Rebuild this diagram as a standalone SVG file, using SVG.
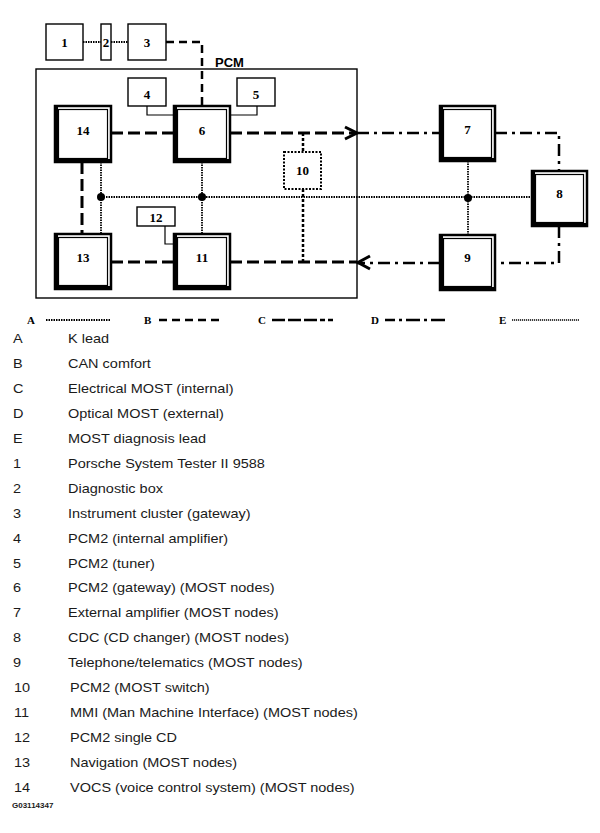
<svg xmlns="http://www.w3.org/2000/svg" width="600" height="833" viewBox="0 0 600 833">
<style>
.bg{fill:#fff}
.fo{fill:#fff;stroke:#000;stroke-width:2.5}
.fi{fill:none;stroke:#000;stroke-width:1.2}
.fs{fill:none;stroke:#000;stroke-width:3}
.bx{fill:#fff;stroke:#000;stroke-width:1.4}
.bxd{fill:#fff;stroke:#000;stroke-width:2;stroke-dasharray:2 1.5}
.pcm{fill:none;stroke:#000;stroke-width:1.4}
.nl{font-family:"Liberation Serif","Times New Roman",serif;font-weight:bold;font-size:13px;text-anchor:middle;fill:#000}
.pl{font-family:"Liberation Sans",Arial,sans-serif;font-weight:bold;font-size:13px;fill:#000}
.lg{font-family:"Liberation Serif","Times New Roman",serif;font-weight:bold;font-size:11px;fill:#000}
.tx{font-family:"Liberation Sans",Arial,sans-serif;font-size:13px;fill:#1a1a1a}
.gc{font-family:"Liberation Sans",Arial,sans-serif;font-size:8px;font-weight:bold;fill:#1a1a1a}
.ka{fill:none;stroke:#000;stroke-width:2;stroke-dasharray:1.5 1}
.can{fill:none;stroke:#000;stroke-width:2.5;stroke-dasharray:8 5}
.em{fill:none;stroke:#000;stroke-width:3;stroke-dasharray:12 5}
.sw{fill:none;stroke:#000;stroke-width:2.5;stroke-dasharray:3 2}
.om{fill:none;stroke:#000;stroke-width:2.5;stroke-dasharray:12 5 3 5}
.md{fill:none;stroke:#000;stroke-width:1.8;stroke-dasharray:1.5 1}
.th{fill:none;stroke:#000;stroke-width:1.2}
.ar{fill:none;stroke:#000;stroke-width:3}
.dot{fill:#000}
</style>
<rect class="bg" x="0" y="0" width="600" height="833"/>

<g id="pcm-frame">
<rect class="pcm" x="36" y="69" width="321" height="229"/>
<text class="pl" x="215" y="67">PCM</text>
</g>

<g id="connectors">
<!-- K lead -->
<path class="ka" d="M83,42 H101 M111,42 H128"/>
<!-- CAN comfort -->
<path class="can" d="M166,42 H202 V106"/>
<!-- Electrical MOST -->
<path class="em" d="M111,133 H174 M230,133 H357 M111,262 H174 M230,262 H357 M82,162 V234"/>
<!-- MOST switch taps -->
<path class="sw" d="M303,133 V152 M303,189 V262"/>
<!-- Optical MOST -->
<path class="om" d="M357,133 H440 M495,133 H559 V171 M559,226 V263 H495 M440,263 H357"/>
<polyline class="ar" points="345,127 357,133 345,139"/>
<polyline class="ar" points="370,256 358,262.5 370,269"/>
<!-- MOST diagnosis lead -->
<path class="md" d="M101,197 H532 M101,162 V234 M202,162 V234 M468,161 V235"/>
<circle class="dot" cx="101" cy="197" r="4"/>
<circle class="dot" cx="202" cy="197" r="4"/>
<circle class="dot" cx="468" cy="198" r="4"/>
<!-- thin links -->
<path class="th" d="M147,106 V115 H174 M257,106 V115 H230 M165,226 V244 H174"/>
</g>

<g id="node-1"><rect class="bx" x="46" y="24" width="37" height="36"/><text class="nl" x="64.5" y="47">1</text></g>
<g id="node-2"><rect class="bx" x="101" y="24" width="10" height="36"/><text class="nl" x="106" y="47">2</text></g>
<g id="node-3"><rect class="bx" x="128" y="24" width="38" height="36"/><text class="nl" x="147" y="47">3</text></g>
<g id="node-4"><rect class="bx" x="128" y="78" width="38" height="28"/><text class="nl" x="147" y="99">4</text></g>
<g id="node-5"><rect class="bx" x="237" y="78" width="38" height="28"/><text class="nl" x="256" y="99">5</text></g>
<g id="node-12"><rect class="bx" x="137" y="207" width="38" height="19"/><text class="nl" x="156" y="222">12</text></g>
<g id="node-10"><rect class="bxd" x="284" y="152" width="37" height="37"/><text class="nl" x="302.5" y="175">10</text></g>

<g id="node-14">
<rect class="fo" x="55" y="106" width="56" height="56"/><rect class="fi" x="58.5" y="109.5" width="49" height="49"/>
<path class="fs" d="M56.5,106 V162 M55,160.5 H111"/>
<text class="nl" x="83" y="135">14</text></g>
<g id="node-6">
<rect class="fo" x="174" y="106" width="56" height="56"/><rect class="fi" x="177.5" y="109.5" width="49" height="49"/>
<path class="fs" d="M175.5,106 V162 M174,160.5 H230"/>
<text class="nl" x="202" y="135">6</text></g>
<g id="node-13">
<rect class="fo" x="55" y="234" width="56" height="55"/><rect class="fi" x="58.5" y="237.5" width="49" height="48"/>
<path class="fs" d="M56.5,234 V289 M55,287.5 H111"/>
<text class="nl" x="83" y="262">13</text></g>
<g id="node-11">
<rect class="fo" x="174" y="234" width="56" height="55"/><rect class="fi" x="177.5" y="237.5" width="49" height="48"/>
<path class="fs" d="M175.5,234 V289 M174,287.5 H230"/>
<text class="nl" x="202" y="262">11</text></g>
<g id="node-7">
<rect class="fo" x="440" y="106" width="55" height="55"/><rect class="fi" x="443.5" y="109.5" width="48" height="48"/>
<path class="fs" d="M441.5,106 V161 M440,159.5 H495"/>
<text class="nl" x="467.5" y="134">7</text></g>
<g id="node-9">
<rect class="fo" x="440" y="235" width="55" height="55"/><rect class="fi" x="443.5" y="238.5" width="48" height="48"/>
<path class="fs" d="M441.5,235 V290 M440,288.5 H495"/>
<text class="nl" x="467.5" y="262">9</text></g>
<g id="node-8">
<rect class="fo" x="532" y="171" width="55" height="55"/><rect class="fi" x="535.5" y="174.5" width="48" height="48"/>
<path class="fs" d="M533.5,171 V226 M532,224.5 H587"/>
<text class="nl" x="559.5" y="198">8</text></g>

<g id="legend-lines">
<text class="lg" x="27" y="324">A</text>
<path class="ka" d="M46,320 H110"/>
<text class="lg" x="144" y="324">B</text>
<path class="can" d="M159,320 H222"/>
<text class="lg" x="258" y="324">C</text>
<path fill="none" stroke="#000" stroke-width="2.5" stroke-dasharray="13 3 13 3 13 3 5 3 5" d="M272,320 H333"/>
<text class="lg" x="371" y="324">D</text>
<path fill="none" stroke="#000" stroke-width="2.5" stroke-dasharray="10 4 3 4 14 4 3 4 14" d="M385,320 H448"/>
<text class="lg" x="499" y="324">E</text>
<path fill="none" stroke="#000" stroke-width="1.5" stroke-dasharray="1.2 0.8" d="M512,320 H579"/>
</g>

<g id="legend-text" transform="scale(1.115,1)">
<text class="tx" x="11.7" y="343">A</text><text class="tx" x="61" y="343">K lead</text>
<text class="tx" x="11.7" y="368">B</text><text class="tx" x="61" y="368">CAN comfort</text>
<text class="tx" x="11.7" y="393">C</text><text class="tx" x="61" y="393">Electrical MOST (internal)</text>
<text class="tx" x="11.7" y="418">D</text><text class="tx" x="61" y="418">Optical MOST (external)</text>
<text class="tx" x="11.7" y="443">E</text><text class="tx" x="61" y="443">MOST diagnosis lead</text>
<text class="tx" x="11.7" y="468">1</text><text class="tx" x="61" y="468">Porsche System Tester II 9588</text>
<text class="tx" x="11.7" y="493">2</text><text class="tx" x="61" y="493">Diagnostic box</text>
<text class="tx" x="11.7" y="518">3</text><text class="tx" x="61" y="518">Instrument cluster (gateway)</text>
<text class="tx" x="11.7" y="543">4</text><text class="tx" x="61" y="543">PCM2 (internal amplifier)</text>
<text class="tx" x="11.7" y="568">5</text><text class="tx" x="61" y="568">PCM2 (tuner)</text>
<text class="tx" x="11.7" y="592">6</text><text class="tx" x="61" y="592">PCM2 (gateway) (MOST nodes)</text>
<text class="tx" x="11.7" y="617">7</text><text class="tx" x="61" y="617">External amplifier (MOST nodes)</text>
<text class="tx" x="11.7" y="642">8</text><text class="tx" x="61" y="642">CDC (CD changer) (MOST nodes)</text>
<text class="tx" x="11.7" y="667">9</text><text class="tx" x="61" y="667">Telephone/telematics (MOST nodes)</text>
<text class="tx" x="12.6" y="692">10</text><text class="tx" x="62.8" y="692">PCM2 (MOST switch)</text>
<text class="tx" x="12.6" y="717">11</text><text class="tx" x="62.8" y="717">MMI (Man Machine Interface) (MOST nodes)</text>
<text class="tx" x="12.6" y="742">12</text><text class="tx" x="62.8" y="742">PCM2 single CD</text>
<text class="tx" x="12.6" y="767">13</text><text class="tx" x="62.8" y="767">Navigation (MOST nodes)</text>
<text class="tx" x="12.6" y="792">14</text><text class="tx" x="62.8" y="792">VOCS (voice control system) (MOST nodes)</text>
</g>
<text class="gc" x="12" y="808">G03114347</text>
</svg>
